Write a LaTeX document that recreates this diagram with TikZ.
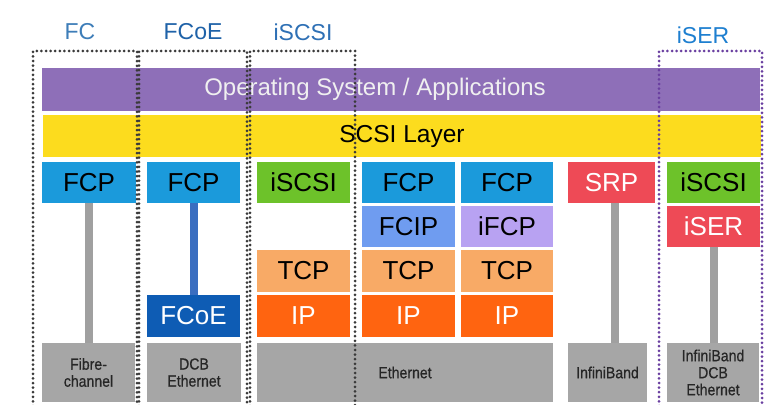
\documentclass[tikz,border=0pt]{standalone}
\usepackage{fontspec}
\setmainfont{Liberation Sans}
\newfontfamily\narrowbold[FakeStretch=0.88,FakeBold=0.6]{Liberation Sans}
\definecolor{cpurple}{HTML}{8E6FB8}
\definecolor{cyellow}{HTML}{FCDC1E}
\definecolor{cfcp}{HTML}{1B9ADB}
\definecolor{cgreen}{HTML}{6DC22A}
\definecolor{cfcip}{HTML}{6F9CF0}
\definecolor{cifcp}{HTML}{B8A2F2}
\definecolor{ctcp}{HTML}{F8AA66}
\definecolor{cip}{HTML}{FF6410}
\definecolor{cfcoe}{HTML}{0E5CB4}
\definecolor{cred}{HTML}{EE4A56}
\definecolor{cgrey}{HTML}{A6A6A6}
\definecolor{cbar}{HTML}{A0A0A0}
\definecolor{cbluebar}{HTML}{3A6EC0}
\definecolor{cdot}{HTML}{3A3A3A}
\definecolor{cdotp}{HTML}{6A3FA0}
\definecolor{chfc}{HTML}{3D7DB8}
\definecolor{chfcoe}{HTML}{1F62A8}
\definecolor{chiscsi}{HTML}{2E70B5}
\definecolor{chiser}{HTML}{1E7FD0}
\begin{document}
\begin{tikzpicture}[x=1pt,y=-1pt,
  blk/.style={inner sep=0pt, outer sep=0pt, minimum height=41pt, font=\fontsize{26}{30}\selectfont},
  gbox/.style={inner sep=0pt, outer sep=0pt, fill=cgrey, minimum height=59pt, align=center,
     font=\narrowbold\fontsize{16}{17}\selectfont, text=black!85},
  vbar/.style={line width=8pt, cbar},
  dotbox/.style={line width=3pt, cdot, line cap=round, dash pattern=on 0pt off 4.6pt},
  hdr/.style={font=\fontsize{23}{27}\selectfont, inner sep=0pt}
]
\useasboundingbox (0,0) rectangle (767,404);
\fill[white] (0,0) rectangle (767,404);

% top bars
\node[blk, fill=cpurple, minimum width=718pt, minimum height=43pt] (os) at (401,89.5) {};
\node[font=\fontsize{24}{28}\selectfont, text=white!94!black, inner sep=0pt] (ostxt) at (375,89.5) {Operating System / Applications};
\node[blk, fill=cyellow, minimum width=718pt, minimum height=42pt, font=\fontsize{24.5}{28}\selectfont] (scsi) at (402,136) {SCSI Layer};

% row 1
\node[blk, fill=cfcp, minimum width=94pt] (fcp1) at (89,182.5) {FCP};
\node[blk, fill=cfcp, minimum width=93pt] (fcp2) at (193.5,182.5) {FCP};
\node[blk, fill=cgreen, minimum width=93pt] (iscsi1) at (303.5,182.5) {iSCSI};
\node[blk, fill=cfcp, minimum width=93pt] (fcp3) at (408.5,182.5) {FCP};
\node[blk, fill=cfcp, minimum width=92pt] (fcp4) at (507,182.5) {FCP};
\node[blk, fill=cred, text=white, minimum width=87pt] (srp) at (611.5,182.5) {SRP};
\node[blk, fill=cgreen, minimum width=93pt] (iscsi2) at (713.5,182.5) {iSCSI};

% row 2
\node[blk, fill=cfcip, minimum width=93pt] (fcip) at (408.5,226.5) {FCIP};
\node[blk, fill=cifcp, minimum width=92pt] (ifcp) at (507,226.5) {iFCP};
\node[blk, fill=cred, text=white, minimum width=93pt] (iser) at (713.5,226.5) {iSER};

% row 3
\node[blk, fill=ctcp, minimum width=93pt, minimum height=42pt] (tcp1) at (303.5,271) {TCP};
\node[blk, fill=ctcp, minimum width=93pt, minimum height=42pt] (tcp2) at (408.5,271) {TCP};
\node[blk, fill=ctcp, minimum width=92pt, minimum height=42pt] (tcp3) at (507,271) {TCP};

% row 4
\node[blk, fill=cfcoe, text=white, minimum width=93pt, minimum height=42pt] (fcoe) at (193.5,316) {FCoE};
\node[blk, fill=cip, text=white, minimum width=93pt, minimum height=42pt] (ip1) at (303.5,316) {IP};
\node[blk, fill=cip, text=white, minimum width=93pt, minimum height=42pt] (ip2) at (408.5,316) {IP};
\node[blk, fill=cip, text=white, minimum width=92pt, minimum height=42pt] (ip3) at (507,316) {IP};

% bottom grey
\node[gbox, minimum width=93pt] (fib) at (88.5,372.5) {Fibre-\\channel};
\node[gbox, minimum width=94pt] (dcb) at (194,372.5) {DCB\\Ethernet};
\node[gbox, minimum width=296pt] (eth) at (405,372.5) {Ethernet};
\node[gbox, minimum width=79pt] (ib) at (607.5,372.5) {InfiniBand};
\node[gbox, minimum width=92pt] (ibdcb) at (713,372.5) {InfiniBand\\DCB\\Ethernet};

% vertical connectors
\draw[vbar] (fcp1.south) -- (fib.north -| fcp1.south);
\draw[line width=8pt, cbluebar] (fcp2.south) -- (fcoe.north);
\draw[vbar] ([xshift=3.5pt]srp.south) -- ([xshift=3.5pt]srp.south |- ib.north);
\draw[vbar] (iser.south) -- (iser.south |- ibdcb.north);

% dotted groupings
\draw[dotbox] (33,406) -- (33,51) -- (137,51) -- (137,406);
\draw[dotbox] (139,406) -- (139,51) -- (247,51) -- (247,406);
\draw[dotbox] (250,406) -- (250,51) -- (355,51) -- (355,406);
\draw[dotbox, cdotp] (659,406) -- (659,51) -- (762,51) -- (762,406);

% headers
\node[hdr, text=chfc] (hfc) at (80,32) {FC};
\node[hdr, text=chfcoe] (hfcoe) at (193,32) {FCoE};
\node[hdr, text=chiscsi] (hiscsi) at (303,32) {iSCSI};
\node[hdr, text=chiser] (hiser) at (703,35) {iSER};
\end{tikzpicture}
\end{document}
